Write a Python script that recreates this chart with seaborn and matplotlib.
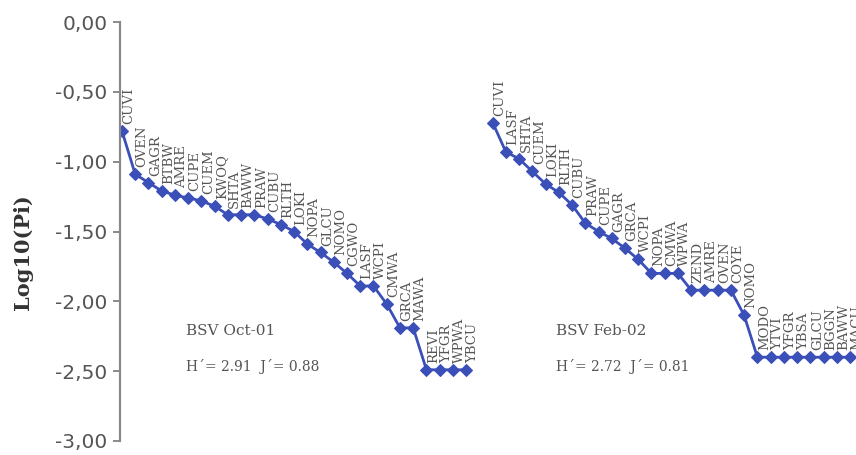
import numpy as np
import pandas as pd
import matplotlib
matplotlib.use("Agg")
import matplotlib.pyplot as plt
import seaborn as sns

# Rank-abundance (log10 of relative abundance) for two point-count surveys
oct_species = ["CUVI", "OVEN", "GAGR", "BTBW", "AMRE", "CUPE", "CUEM", "KWOQ",
               "SHTA", "BAWW", "PRAW", "CUBU", "RLTH", "LOKI", "NOPA", "GLCU",
               "NOMO", "CGWO", "LASF", "WCPI", "CMWA", "GRCA", "MAWA", "REVI",
               "YFGR", "WPWA", "YBCU"]
oct_logpi = [-0.78, -1.09, -1.15, -1.21, -1.24, -1.26, -1.28, -1.32,
             -1.38, -1.38, -1.38, -1.41, -1.45, -1.50, -1.59, -1.65,
             -1.72, -1.80, -1.89, -1.89, -2.02, -2.19, -2.19, -2.49,
             -2.49, -2.49, -2.49]

feb_species = ["CUVI", "LASF", "SHTA", "CUEM", "LOKI", "RLTH", "CUBU", "PRAW",
               "CUPE", "GAGR", "GRCA", "WCPI", "NOPA", "CMWA", "WPWA", "ZEND",
               "AMRE", "OVEN", "COYE", "NOMO", "MODO", "YTVI", "YFGR", "YBSA",
               "GLCU", "BGGN", "BAWW", "MACU"]
feb_logpi = [-0.72, -0.93, -0.98, -1.07, -1.16, -1.22, -1.31, -1.44,
             -1.50, -1.55, -1.62, -1.70, -1.80, -1.80, -1.80, -1.92,
             -1.92, -1.92, -1.92, -2.10, -2.40, -2.40, -2.40, -2.40,
             -2.40, -2.40, -2.40, -2.40]

surveys = ["BSV Oct-01", "BSV Feb-02"]
diversity = ["H\u00b4= 2.91  J\u00b4= 0.88", "H\u00b4= 2.72  J\u00b4= 0.81"]
yticks = [0.0, -0.5, -1.0, -1.5, -2.0, -2.5, -3.0]

# Both surveys share one rank axis, separated by an empty slot
oct_rank = np.arange(len(oct_species))
feb_rank = np.arange(len(feb_species)) + len(oct_species) + 1
df = pd.DataFrame({
    "rank": np.concatenate([oct_rank, feb_rank]),
    "logpi": oct_logpi + feb_logpi,
    "species": oct_species + feb_species,
    "survey": [surveys[0]] * len(oct_species) + [surveys[1]] * len(feb_species),
})

sns.set_style("white")
plt.rcParams["font.family"] = ["DejaVu Sans"]

blue = "#3b4fb8"
grey = "#8a8a8a"

fig = plt.figure(figsize=(8.56, 4.55), dpi=100)
ax = fig.add_axes([120 / 856, 14 / 455, 1 - 120 / 856, 419 / 455])

sns.lineplot(data=df, x="rank", y="logpi", hue="survey",
             palette=[blue, blue], marker="D", markersize=6,
             markeredgecolor=blue, linewidth=2.0, legend=False, ax=ax)

for _, row in df.iterrows():
    ax.annotate(row["species"], (row["rank"], row["logpi"]),
                xytext=(5, 5), textcoords="offset points",
                rotation=90, ha="center", va="bottom",
                fontsize=9.5, family="DejaVu Serif", color="#555555")

for start, name, div in zip([oct_rank[0], feb_rank[0]], surveys, diversity):
    ax.text(start + 4.8, -2.21, name, fontsize=11, family="DejaVu Serif",
            color="#555555", va="center", ha="left")
    ax.text(start + 4.8, -2.47, div, fontsize=10, family="DejaVu Serif",
            color="#555555", va="center", ha="left")

ax.set_xlim(-0.15, 55.45)
ax.set_ylim(-3.0, 0.0)
ax.set_yticks(yticks)
ax.set_yticklabels([f"{v:.2f}".replace(".", ",") for v in yticks],
                   fontsize=14.5, color="#555555")
ax.set_xticks([])
ax.set_xlabel("")
ax.set_ylabel("Log10(Pi)", fontsize=15, fontweight="bold",
              family="DejaVu Serif", color="#333333", labelpad=14)
ax.yaxis.set_label_coords(-0.118, 0.45)

for side in ["top", "right", "bottom"]:
    ax.spines[side].set_visible(False)
ax.spines["left"].set_color(grey)
ax.spines["left"].set_linewidth(1.6)
ax.tick_params(axis="y", direction="out", length=5, width=1.4,
               color=grey, pad=4, left=True)
ax.set_facecolor("none")

fig.savefig("out.png", dpi=100)
